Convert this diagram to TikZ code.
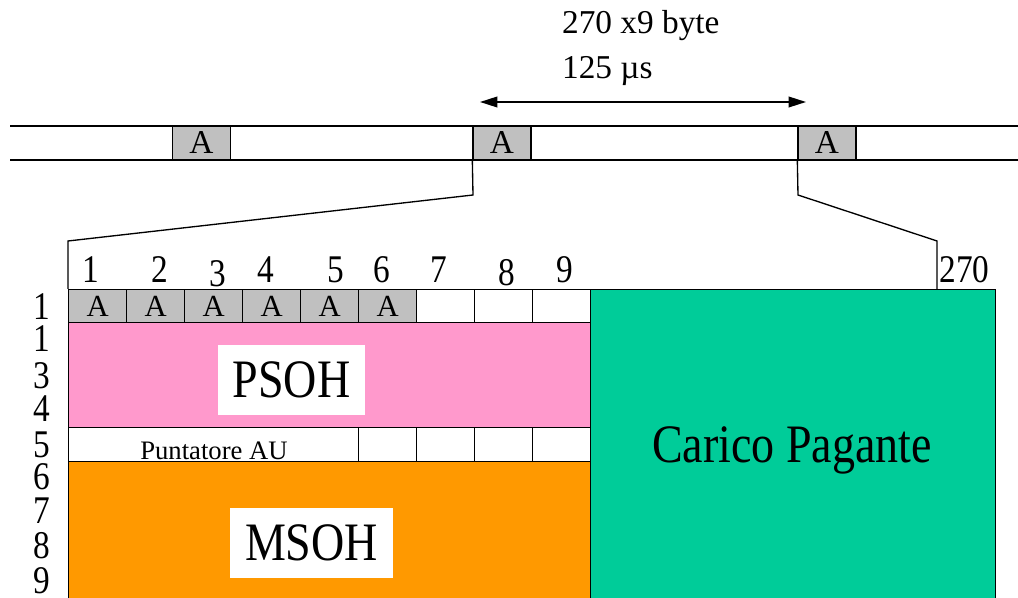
\documentclass[tikz,border=0pt]{standalone}
\usepackage{fontspec}
\setmainfont{Liberation Serif}
\newfontfamily\tallfont{Liberation Serif}[FakeStretch=0.85]
\usetikzlibrary{arrows.meta, positioning}
\definecolor{cellGray}{HTML}{C0C0C0}
\definecolor{psohPink}{HTML}{FF99CC}
\definecolor{msohOrange}{HTML}{FF9900}
\definecolor{payGreen}{HTML}{00CC99}
\newcommand{\bigtext}{\tallfont\fontsize{40.6}{46}\selectfont}
\newcommand{\numtext}{\tallfont\fontsize{29.4}{34}\selectfont}
\newcommand{\headtext}{\fontsize{25}{30}\selectfont}

\begin{document}
\begin{tikzpicture}[x=0.75pt, y=-0.75pt, line width=1pt,
  framecell/.style={draw, fill=cellGray, minimum width=43.5pt, minimum height=25.5pt,
                    inner sep=0pt, font=\headtext},
  gridcell/.style={draw, minimum width=43.5pt, minimum height=24.75pt, inner sep=0pt,
                   anchor=north west},
  acell/.style={gridcell, fill=cellGray, font=\fontsize{23}{23}\selectfont},
  block/.style={draw, inner sep=0pt, anchor=north west},
  numlabel/.style={anchor=base, inner sep=0pt, font=\numtext},
  tag/.style={fill=white, inner sep=0pt, font=\bigtext}]
  \useasboundingbox (0,0) rectangle (1018,598);

  % frame stream
  \coordinate (s1) at (10,126);  \coordinate (s2) at (1018,126);
  \coordinate (s3) at (10,160);  \coordinate (s4) at (1018,160);
  \draw[line width=1.2pt] (s1) -- (s2) (s3) -- (s4);
  \node[framecell] (fa1) at (201.5,143) {A};
  \node[framecell] (fa2) at (502,143) {A};
  \node[framecell] (fa3) at (827,143) {A};

  % period
  \coordinate (perL) at (480,102);
  \coordinate (perR) at (806,102);
  \draw[line width=1.2pt, {Triangle[length=13pt,width=8pt]}-{Triangle[length=13pt,width=8pt]}]
    (perL) -- (perR);
  \node[anchor=base west, font=\headtext] (size) at (557,34) {270 x9 byte};
  \node[anchor=base west, font=\headtext] (time) at (557,79) {125 µs};

  % STM-1 frame
  \node[block, fill=payGreen, minimum width=303.75pt, minimum height=234pt] (payload) at (590,289) {};
  \foreach \i in {1,...,6}
    \node[acell] (c\i) at ({68+58*(\i-1)},289) {A};
  \foreach \i in {7,8,9}
    \node[gridcell] (c\i) at ({68+58*(\i-1)},289) {};
  \node[block, fill=psohPink, minimum width=391.5pt, minimum height=78.75pt] (psoh) at (68,322) {};
  \node[gridcell, minimum width=217.5pt, minimum height=25.5pt] (ptr) at (68,427) {};
  \foreach \i in {6,...,9}
    \node[gridcell, minimum height=25.5pt] (p\i) at ({68+58*(\i-1)},427) {};
  \node[block, fill=msohOrange, minimum width=391.5pt, minimum height=105pt] (msoh) at (68,461) {};

  \node[tag, minimum width=110pt, minimum height=52.5pt] (psohtag) at (291.5,380) {PSOH};
  \node[tag, minimum width=122pt, minimum height=52.5pt] (msohtag) at (311.5,543) {MSOH};
  \node[anchor=base, font=\bigtext] (paytext) at (792,463) {Carico Pagante};
  \node[anchor=base, font=\fontsize{20}{24}\selectfont] (ptrtext) at (214,460) {Puntatore AU};

  % column and row numbers
  \foreach \n/\x/\y in {1/91/283, 2/160/283, 3/218/287, 4/266/283, 5/336/283,
                        6/382/283, 7/439/283, 8/507/286, 9/565/283}
    \node[numlabel] (col\n) at (\x,\y) {\n};
  \node[numlabel, anchor=base west] (col270) at (939,283) {270};
  \foreach \k/\t/\y in {1/1/320, 2/1/352, 3/3/389, 4/4/422, 5/5/458,
                        6/6/490, 7/7/523, 8/8/559, 9/9/594}
    \node[numlabel] (row\k) at (42,\y) {\t};

  % zoom lines
  \coordinate (bendL) at (473,195);
  \coordinate (bendR) at (798,195);
  \coordinate (zoomL) at (68,241);
  \coordinate (zoomR) at (937,241);
  \coordinate (endR) at (937,289);
  \draw (fa2.south west) -- (bendL) -- (zoomL) -- (c1.north west);
  \draw (fa3.south west) -- (bendR) -- (zoomR) -- (endR);
\end{tikzpicture}
\end{document}
